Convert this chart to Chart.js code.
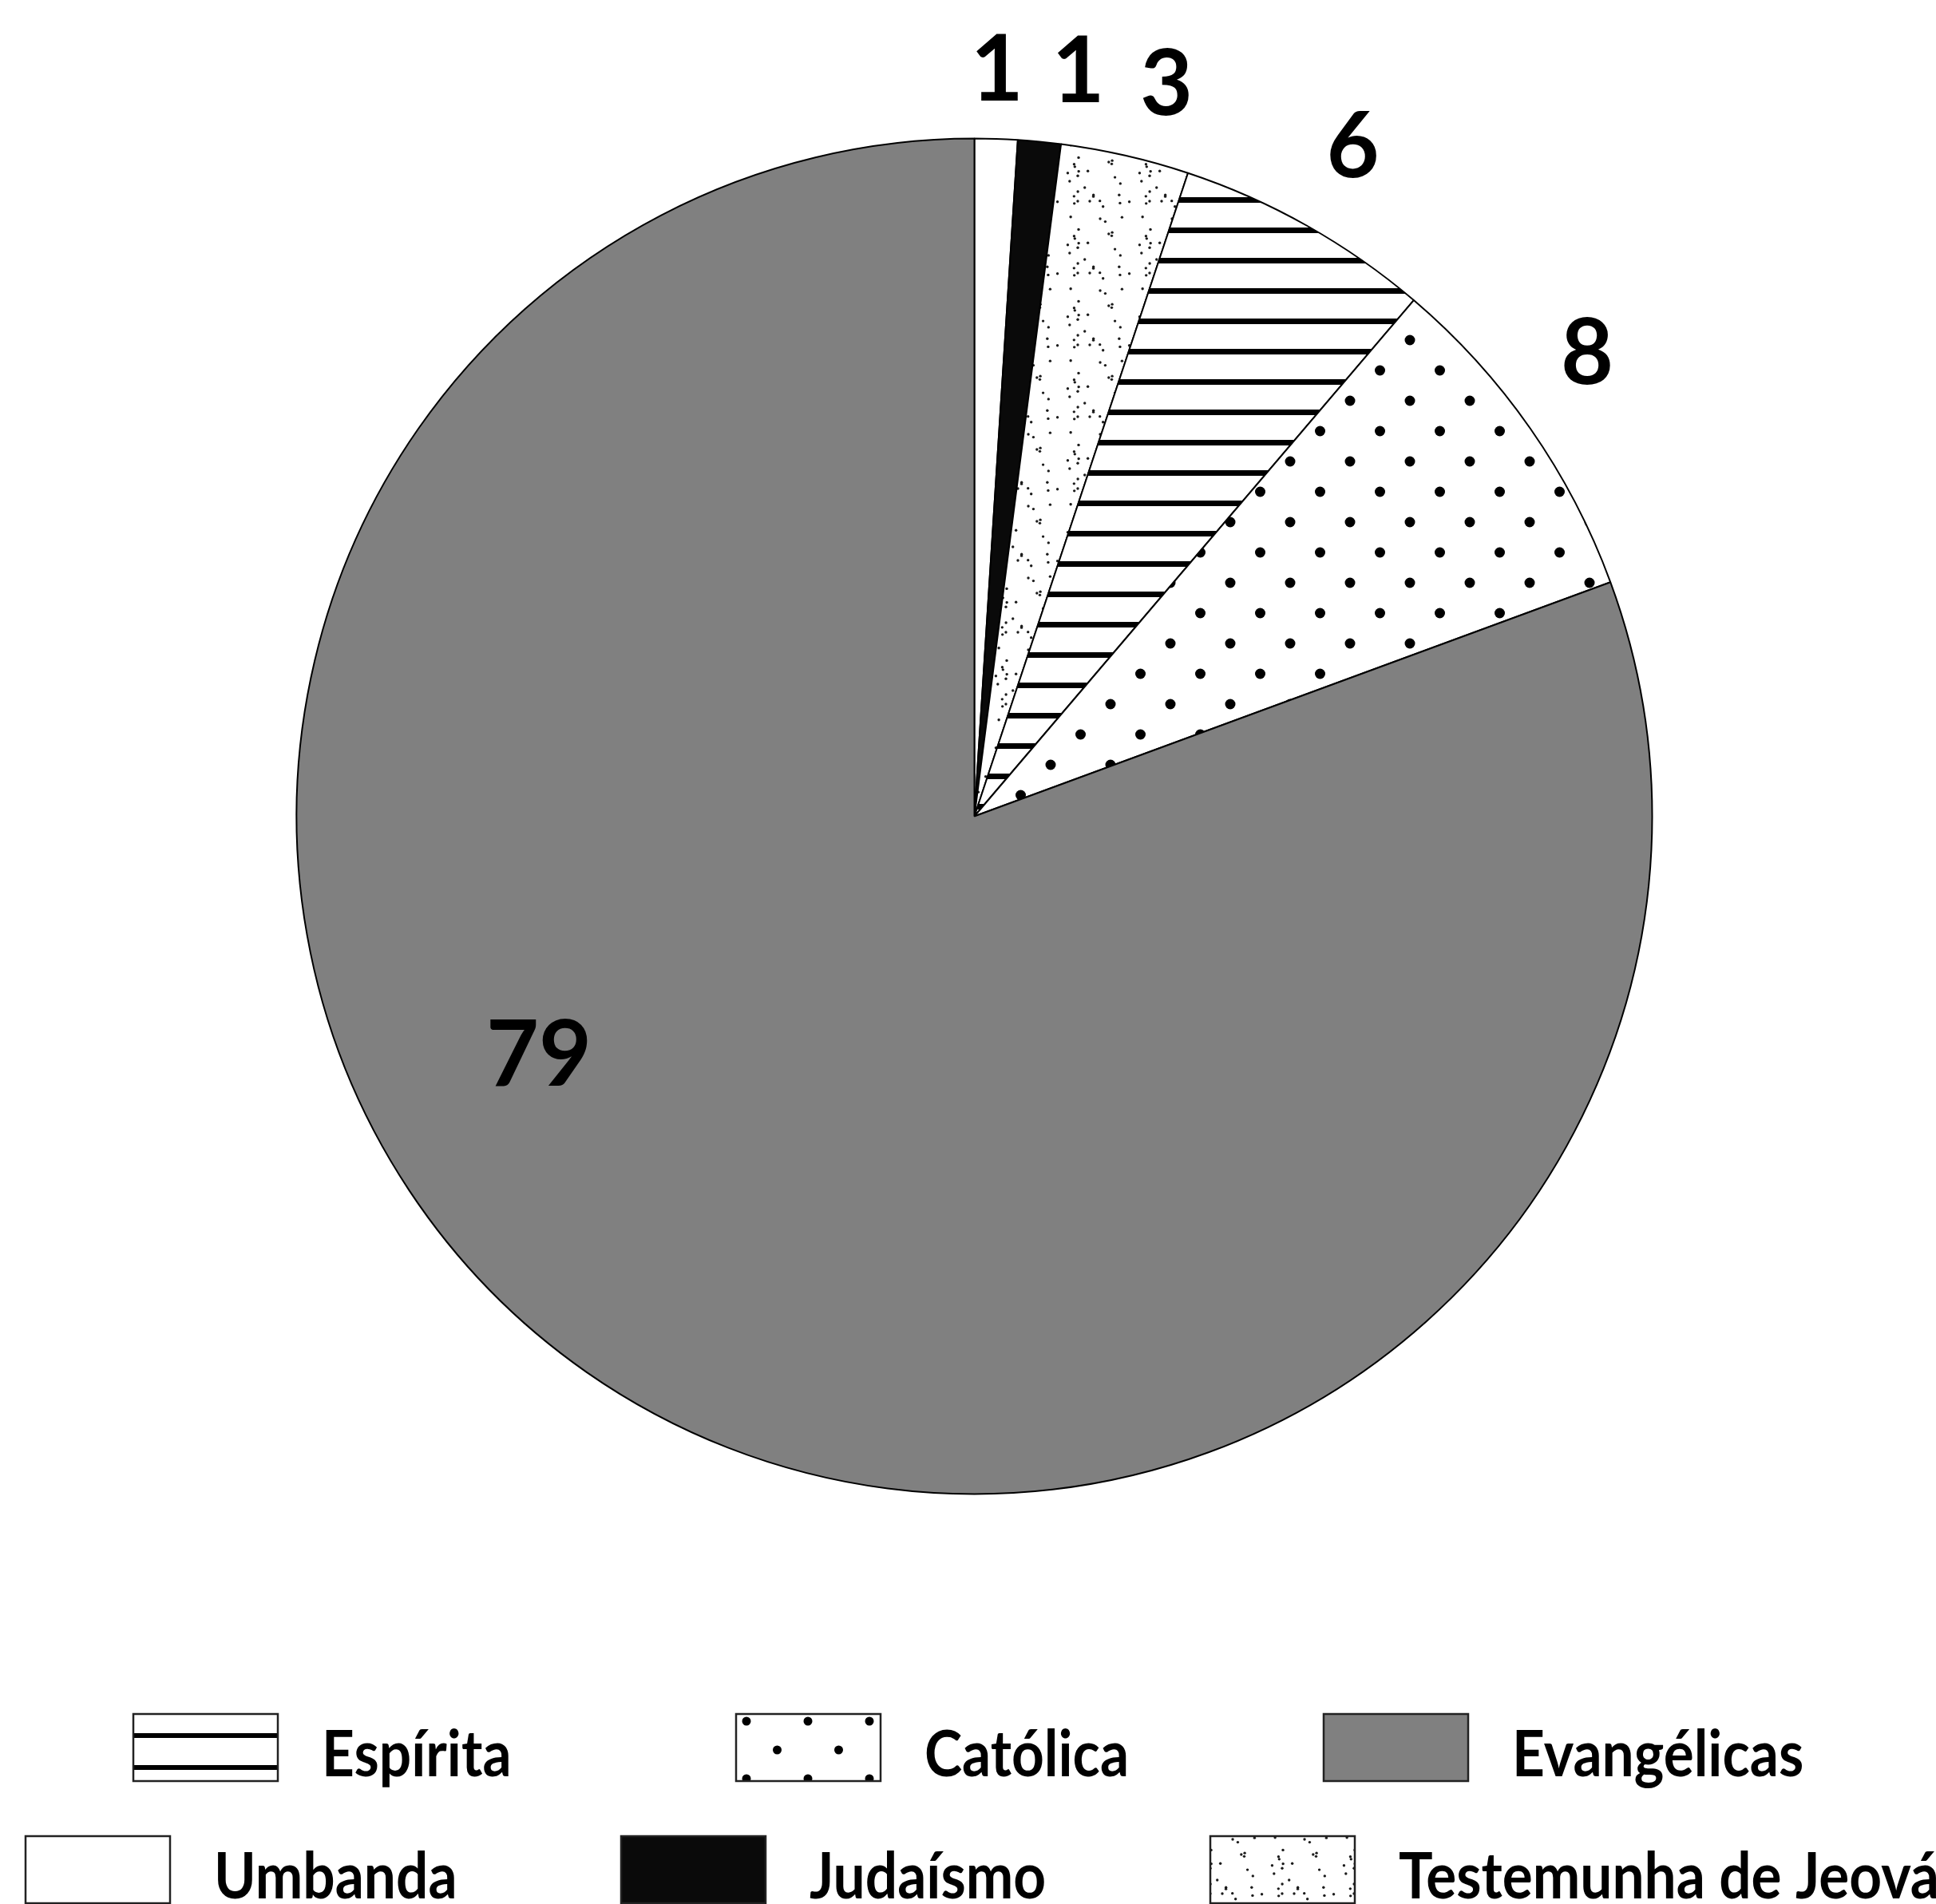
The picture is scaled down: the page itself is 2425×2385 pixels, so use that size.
<!DOCTYPE html>
<html lang="pt-BR">
<head>
<meta charset="utf-8">
<title>Religião</title>
<script src="https://cdn.jsdelivr.net/npm/chart.js@4.4.1/dist/chart.umd.min.js"></script>
<style>
    html, body { margin: 0; padding: 0; background: #fff; }
    canvas { display: block; }
</style>
</head>
<body>
<canvas id="religion-chart" width="2425" height="2385"></canvas>
<script>
// Religions, clockwise from 12 o'clock
const religions = ['Umbanda', 'Judaísmo', 'Testemunha de Jeová', 'Espírita', 'Católica', 'Evangélicas'];
const counts = [1, 1, 3, 6, 8, 79];

// Legend rows under the pie
const legendTop = ['Espírita', 'Católica', 'Evangélicas'];
const legendBottom = ['Umbanda', 'Judaísmo', 'Testemunha de Jeová'];

// Value label spot per slice: [angle shift in degrees from slice middle, distance as share of radius]
const labelPlacement = [[-0.1, 1.105], [2.4, 1.113], [1.8, 1.12], [0, 1.138], [-2.3, 1.135], [26.6, 0.731]];

const GRAY = '#808080';
const TEXT_FONT = 'Lato';

// Build a repeating fill from a small tile
function makeTile(w, h, draw) {
    const tile = document.createElement('canvas');
    tile.width = w;
    tile.height = h;
    const g = tile.getContext('2d');
    g.fillStyle = '#fff';
    g.fillRect(0, 0, w, h);
    g.fillStyle = '#000';
    draw(g, w, h);
    return g.createPattern(tile, 'repeat');
}

// Horizontal bands, band top at y = 0 of each period
function stripePattern(period, thickness) {
    return makeTile(8, period, (g) => g.fillRect(0, 0, 8, thickness));
}

// Staggered dots: every other row shifted by half a step
function dotPattern(dx, dy, r) {
    return makeTile(dx, dy * 2, (g, w, h) => {
        [[0, 0], [dx / 2, dy]].forEach(([px, py]) => {
            for (const sx of [-w, 0, w]) {
                for (const sy of [-h, 0, h]) {
                    g.beginPath();
                    g.arc(px + sx, py + sy, r, 0, Math.PI * 2);
                    g.fill();
                }
            }
        });
    });
}

// Fine stipple texture
function stipplePattern() {
    let seed = 11;
    const next = () => (seed = (seed * 16807) % 2147483647) / 2147483647;
    return makeTile(90, 90, (g, w, h) => {
        g.fillStyle = '#1c1c1c';
        for (let i = 0; i < 30; i++) {
            const px = next() * w;
            const py = next() * h;
            for (const sx of [-w, 0, w]) {
                for (const sy of [-h, 0, h]) {
                    g.beginPath();
                    g.arc(px + sx, py + sy, 1.7, 0, Math.PI * 2);
                    g.fill();
                }
            }
        }
    });
}

function shifted(pattern, x, y) {
    pattern.setTransform(new DOMMatrix().translate(x, y));
    return pattern;
}

const stripes = shifted(stripePattern(38, 7), 0, 19);
const bigDots = shifted(dotPattern(75, 38, 6.5), 41, 46);
const stipple = stipplePattern();

const sliceFills = ['#ffffff', '#0a0a0a', stipple, stripes, bigDots, GRAY];

// Legend swatches get their own phase so the texture sits inside the box
function legendFill(name, x, y) {
    if (name === 'Espírita') {
        return shifted(stripePattern(40, 6), x, y + 24);
    }
    if (name === 'Católica') {
        return shifted(dotPattern(77, 36, 5.5), x + 13, y + 9);
    }
    if (name === 'Testemunha de Jeová') {
        return shifted(stipplePattern(), x, y);
    }
    return sliceFills[religions.indexOf(name)];
}

// Numbers around the pie
const valueLabels = {
    id: 'valueLabels',
    afterDatasetsDraw(chart) {
        const ctx = chart.ctx;
        const meta = chart.getDatasetMeta(0);
        const size = 114;
        ctx.save();
        ctx.font = 'bold ' + size + 'px ' + TEXT_FONT;
        ctx.fillStyle = '#000';
        ctx.textAlign = 'center';
        ctx.textBaseline = 'alphabetic';
        meta.data.forEach((arc, i) => {
            const p = arc.getProps(['x', 'y', 'startAngle', 'endAngle', 'outerRadius'], true);
            const [shift, dist] = labelPlacement[i];
            const a = (p.startAngle + p.endAngle) / 2 + shift * Math.PI / 180;
            const r = p.outerRadius * dist;
            const lx = p.x + Math.cos(a) * r;
            const ly = p.y + Math.sin(a) * r;
            ctx.fillText(String(chart.data.datasets[0].data[i]), lx, ly + size * 0.36);
        });
        ctx.restore();
    }
};

// Two-row legend drawn below the pie
const gridLegend = {
    id: 'gridLegend',
    afterDraw(chart) {
        const ctx = chart.ctx;
        const rows = [
            { names: legendTop, top: 2147, xs: [167, 922, 1658] },
            { names: legendBottom, top: 2300, xs: [32, 778, 1516] }
        ];
        const boxW = 181;
        const boxH = 84;
        ctx.save();
        rows.forEach((row) => {
            row.names.forEach((name, i) => {
                const x = row.xs[i];
                ctx.fillStyle = legendFill(name, x, row.top);
                ctx.fillRect(x, row.top, boxW, boxH);
                ctx.lineWidth = 2.5;
                ctx.strokeStyle = '#222';
                ctx.strokeRect(x, row.top, boxW, boxH);

                ctx.save();
                ctx.translate(x + 236, row.top + 78);
                ctx.scale(0.89, 1);
                ctx.font = 'bold 80px ' + TEXT_FONT;
                ctx.fillStyle = '#000';
                ctx.textAlign = 'left';
                ctx.textBaseline = 'alphabetic';
                ctx.fillText(name, 0, 0);
                ctx.restore();
            });
        });
        ctx.restore();
    }
};

function drawChart() {
    const ctx = document.getElementById('religion-chart').getContext('2d');
    new Chart(ctx, {
        type: 'pie',
        data: {
            labels: religions,
            datasets: [{
                data: counts,
                backgroundColor: sliceFills,
                borderColor: '#000',
                borderWidth: 2
            }]
        },
        options: {
            responsive: false,
            animation: false,
            devicePixelRatio: 1,
            radius: 849,
            layout: {
                padding: { left: 16, right: 0, top: 0, bottom: 340 }
            },
            plugins: {
                legend: { display: false },
                tooltip: { enabled: false }
            }
        },
        plugins: [valueLabels, gridLegend]
    });
}

document.fonts.load('bold 80px ' + TEXT_FONT).then(drawChart, drawChart);
</script>
</body>
</html>
